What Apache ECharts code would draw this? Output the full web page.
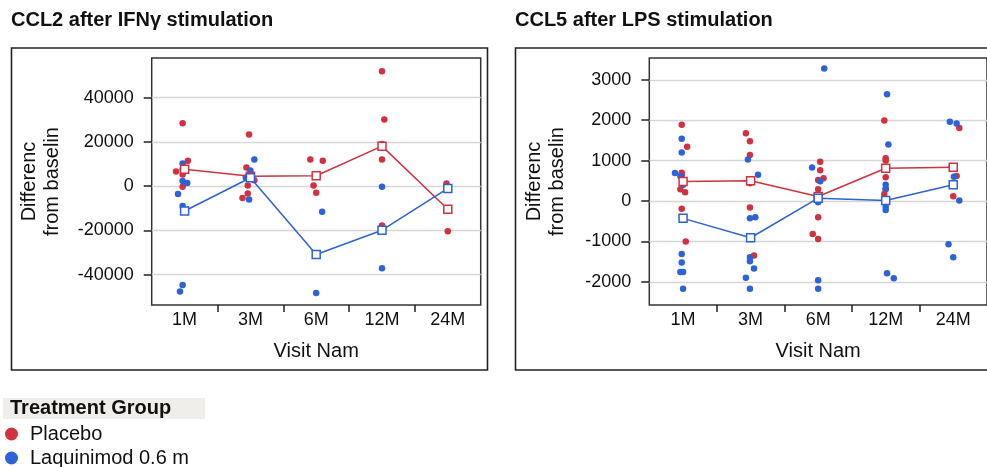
<!DOCTYPE html>
<html><head><meta charset="utf-8">
<script src="https://cdn.jsdelivr.net/npm/echarts@6/dist/echarts.min.js"></script>
<style>html,body{margin:0;padding:0;background:#fff}#c{width:987px;height:467px}</style>
</head><body><div id="c"></div>
<script>
const visits = ['1M','3M','6M','12M','24M'];
const ccl2YTicks = [-40000,-20000,0,20000,40000];
const ccl5YTicks = [-2000,-1000,0,1000,2000,3000];
const groups = ['Placebo','Laquinimod 0.6 m'];

// individual subjects: [visit, value, horizontal jitter (category units)]
const ccl2Placebo = [
  ['1M',28400,-0.03],['1M',11500,0.05],['1M',6700,-0.13],['1M',5300,-0.03],['1M',-300,-0.03],
  ['3M',23400,-0.02],['3M',8500,-0.06],['3M',2700,0.06],['3M',300,-0.04],['3M',-3300,-0.04],['3M',-5300,-0.12],
  ['6M',12100,-0.09],['6M',11500,0.1],['6M',300,-0.04],['6M',-3000,0],
  ['12M',52000,0],['12M',30200,0.035],['12M',19100,0],['12M',12100,0],['12M',-17800,0],
  ['24M',1200,-0.02],['24M',-20400,0]
];
const ccl2Laq = [
  ['1M',10300,-0.03],['1M',7700,-0.03],['1M',2300,-0.03],['1M',1500,0.04],['1M',-3500,-0.1],['1M',-9000,-0.03],['1M',-44700,-0.03],['1M',-47600,-0.07],
  ['3M',12100,0.06],['3M',7100,0],['3M',3900,-0.07],['3M',-6000,-0.02],
  ['6M',-11600,0.09],['6M',-48300,0],
  ['12M',-300,0],['12M',-37100,0],
  ['24M',-1000,0]
];
const ccl2PlaceboMean = [7700, 4500, 4700, 18100, -10400];
const ccl2LaqMean = [-11200, 3800, -30900, -19900, -1000];

const ccl5Placebo = [
  ['1M',1890,-0.02],['1M',1340,0.06],['1M',700,-0.02],['1M',640,-0.02],['1M',290,-0.04],['1M',215,0.03],['1M',-190,-0.02],['1M',-1000,0.04],
  ['3M',1680,-0.07],['3M',1480,-0.01],['3M',1140,-0.01],['3M',440,-0.01],['3M',-160,-0.01],['3M',-1350,0.05],
  ['6M',970,0.03],['6M',760,0.03],['6M',520,0],['6M',560,0.08],['6M',290,0],['6M',-400,0],['6M',-820,-0.08],['6M',-940,0],
  ['12M',1990,-0.02],['12M',1060,0],['12M',1000,0],['12M',590,0],['12M',290,0],['12M',175,-0.02],
  ['24M',1810,0.09],['24M',620,0.05],['24M',120,0]
];
const ccl5Laq = [
  ['1M',1540,-0.02],['1M',1200,-0.02],['1M',690,-0.12],['1M',620,-0.04],['1M',400,0],['1M',-1310,-0.02],['1M',-1520,-0.02],['1M',-1760,0],['1M',-1760,-0.04],['1M',-2170,0],
  ['3M',1030,-0.04],['3M',650,0.11],['3M',-430,-0.01],['3M',-400,0.07],['3M',-1390,-0.01],['3M',-1490,-0.01],['3M',-1670,0.05],['3M',-1900,-0.07],['3M',-2170,-0.01],
  ['6M',3280,0.09],['6M',830,-0.09],['6M',490,0.03],['6M',-30,0],['6M',-1960,0],['6M',-2170,0],
  ['12M',2640,0.02],['12M',1400,0.04],['12M',400,0],['12M',300,0],['12M',-140,0],['12M',-220,0],['12M',-1790,0.02],['12M',-1910,0.12],
  ['24M',1960,-0.05],['24M',1920,0.05],['24M',810,0.01],['24M',600,0.01],['24M',10,0.09],['24M',-1070,-0.07],['24M',-1390,0]
];
const ccl5PlaceboMean = [480, 500, 110, 810, 835];
const ccl5LaqMean = [-430, -910, 70, 10, 400];

const RED = '#d2323f', BLUE = '#2e62d8';
const FONT = '"Liberation Sans", Arial, Helvetica, sans-serif';
const TXT = '#111';

function pts(arr){ return arr.map(d => [visits.indexOf(d[0]) + d[2], d[1]]); }

function catAxis(g){
  return {gridIndex:g, type:'category', data:visits, boundaryGap:true, position:'bottom',
    axisLine:{show:false, onZero:false}, axisTick:{show:false}, splitLine:{show:false},
    axisLabel:{fontSize:18, color:TXT, fontFamily:FONT, margin:6},
    name:'Visit Nam', nameLocation:'middle', nameGap:36,
    nameTextStyle:{fontSize:20, color:TXT, fontFamily:FONT}};
}
function valXAxis(g){
  return {gridIndex:g, type:'value', min:-0.5, max:4.5, position:'bottom',
    axisLine:{show:false, onZero:false}, axisLabel:{show:false}, splitLine:{show:false},
    axisTick:{show:true, length:7, customValues:[0.5,1.5,2.5,3.5], lineStyle:{color:'#222', width:1.5}}};
}
function yAx(g, min, max, ticks, gap){
  return {gridIndex:g, type:'value', min:min, max:max, position:'left',
    axisLine:{show:false, onZero:false},
    axisTick:{show:true, length:8, customValues:ticks, lineStyle:{color:'#222', width:1.5}},
    axisLabel:{customValues:ticks, fontSize:18, color:TXT, fontFamily:FONT, margin:18, formatter:v => String(v)},
    splitLine:{show:true, lineStyle:{color:'#d6d6d6', width:1.3}},
    name:'Differenc\nfrom baselin', nameLocation:'middle', nameGap:gap,
    nameTextStyle:{fontSize:20, lineHeight:23, color:TXT, fontFamily:FONT}};
}
function scatter(name, data, xi, yi, color){
  return {name:name, type:'scatter', xAxisIndex:xi, yAxisIndex:yi, data:pts(data),
    symbol:'circle', symbolSize:6.5, itemStyle:{color:color, opacity:1}, z:2};
}
function meanLine(name, data, xi, yi, color){
  return {name:name, type:'line', xAxisIndex:xi, yAxisIndex:yi, data:data,
    symbol:'rect', symbolSize:8, showSymbol:true,
    lineStyle:{color:color, width:1.5}, itemStyle:{color:'#fff', borderColor:color, borderWidth:1.5}, z:3};
}
function legendItem(name, top){
  return {data:[name], orient:'vertical', left:0, top:top, itemWidth:13, itemHeight:13,
    icon:'circle', textStyle:{fontSize:20, color:TXT, fontFamily:FONT, padding:[0,0,0,7]}};
}

const chart = echarts.init(document.getElementById('c'), null, {renderer:'canvas'});
chart.setOption({
  animation:false,
  textStyle:{fontFamily:FONT},
  title:[
    {text:'CCL2 after IFNγ stimulation', left:11, top:10, padding:0, textStyle:{fontSize:20, fontWeight:'bold', color:TXT, fontFamily:FONT}},
    {text:'CCL5 after LPS stimulation', left:515, top:10, padding:0, textStyle:{fontSize:20, fontWeight:'bold', color:TXT, fontFamily:FONT}}
  ],
  grid:[
    {left:151.7, top:58, width:329, height:247, show:true, borderColor:'#333', borderWidth:1.5, backgroundColor:'transparent'},
    {left:649.3, top:58, width:339, height:247, show:true, borderColor:'#333', borderWidth:1.5, backgroundColor:'transparent'}
  ],
  xAxis:[catAxis(0), valXAxis(0), catAxis(1), valXAxis(1)],
  yAxis:[yAx(0, -53700, 57950, ccl2YTicks, 88), yAx(1, -2575, 3540, ccl5YTicks, 80)],
  legend:[legendItem(groups[0], 419), legendItem(groups[1], 443)],
  graphic:[
    {type:'rect', shape:{x:11.5, y:48, width:476, height:322}, style:{fill:'none', stroke:'#222', lineWidth:1.6}, z:-1},
    {type:'rect', shape:{x:515.5, y:48, width:480, height:322}, style:{fill:'none', stroke:'#222', lineWidth:1.6}, z:-1},
    {type:'rect', shape:{x:3, y:398, width:202, height:21}, style:{fill:'#efeeea'}, z:-1},
    {type:'text', x:10, y:408.5, style:{text:'Treatment Group', font:'bold 20px ' + FONT, fill:TXT, verticalAlign:'middle'}}
  ],
  series:[
    scatter(groups[0], ccl2Placebo, 1, 0, RED),
    scatter(groups[1], ccl2Laq, 1, 0, BLUE),
    meanLine('Placebo mean', ccl2PlaceboMean, 0, 0, RED),
    meanLine('Laquinimod mean', ccl2LaqMean, 0, 0, BLUE),
    scatter(groups[0], ccl5Placebo, 3, 1, RED),
    scatter(groups[1], ccl5Laq, 3, 1, BLUE),
    meanLine('Placebo mean', ccl5PlaceboMean, 2, 1, RED),
    meanLine('Laquinimod mean', ccl5LaqMean, 2, 1, BLUE)
  ]
});
</script></body></html>
